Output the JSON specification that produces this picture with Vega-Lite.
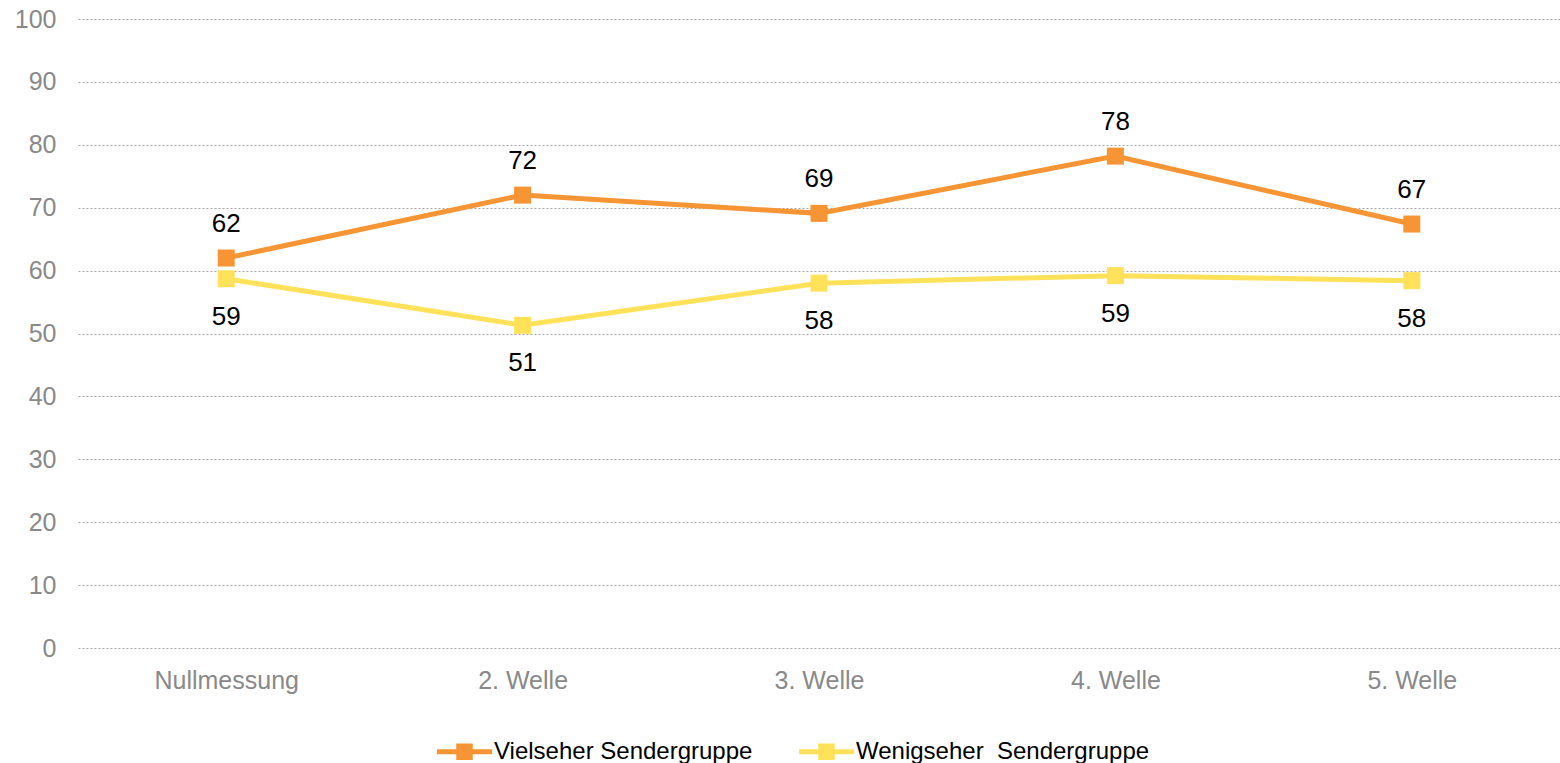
{
  "$schema": "https://vega.github.io/schema/vega-lite/v6.json",
  "autosize": "none",
  "width": 1482,
  "height": 629,
  "padding": {"left": 78, "top": 19, "right": 0, "bottom": 115},
  "background": "white",
  "config": {
    "view": {"stroke": null},
    "font": "Liberation Sans",
    "axis": {"labelFont": "Liberation Sans", "labelColor": "#898989", "labelFontSize": 25, "domain": false, "ticks": false, "grid": true, "gridColor": "#a6a6a6", "gridDash": [2, 2], "gridWidth": 1, "title": null},
    "legend": {"labelFont": "Liberation Sans", "labelFontSize": 24, "labelColor": "#000000", "labelLimit": 500}
  },
  "data": {
    "values": [
      {"welle": "Nullmessung", "gruppe": "Vielseher Sendergruppe", "wert": 62.0},
      {"welle": "2. Welle", "gruppe": "Vielseher Sendergruppe", "wert": 72.0},
      {"welle": "3. Welle", "gruppe": "Vielseher Sendergruppe", "wert": 69.1},
      {"welle": "4. Welle", "gruppe": "Vielseher Sendergruppe", "wert": 78.2},
      {"welle": "5. Welle", "gruppe": "Vielseher Sendergruppe", "wert": 67.4},
      {"welle": "Nullmessung", "gruppe": "Wenigseher\u00a0 Sendergruppe", "wert": 58.7},
      {"welle": "2. Welle", "gruppe": "Wenigseher\u00a0 Sendergruppe", "wert": 51.3},
      {"welle": "3. Welle", "gruppe": "Wenigseher\u00a0 Sendergruppe", "wert": 58.0},
      {"welle": "4. Welle", "gruppe": "Wenigseher\u00a0 Sendergruppe", "wert": 59.2},
      {"welle": "5. Welle", "gruppe": "Wenigseher\u00a0 Sendergruppe", "wert": 58.4}
    ]
  },
  "encoding": {
    "x": {"field": "welle", "type": "ordinal", "sort": null,
      "scale": {"type": "point", "padding": 0.5},
      "axis": {"labelAngle": 0, "labelPadding": 20, "grid": false}},
    "y": {"field": "wert", "type": "quantitative",
      "scale": {"domain": [0, 100], "nice": false},
      "axis": {"values": [0, 10, 20, 30, 40, 50, 60, 70, 80, 90, 100], "labelPadding": 22}}
  },
  "layer": [
    {
      "mark": {"type": "line", "strokeWidth": 5},
      "encoding": {
        "color": {"field": "gruppe", "type": "nominal",
          "scale": {"domain": ["Vielseher Sendergruppe", "Wenigseher\u00a0 Sendergruppe"], "range": ["#F79433", "#FFE25A"]},
          "legend": {"orient": "none", "legendX": 359, "legendY": 705, "direction": "horizontal", "title": null,
            "symbolType": "M-1,-0.09L1,-0.09L1,0.09L-1,0.09Z M-0.3,-0.3L0.3,-0.3L0.3,0.3L-0.3,0.3Z",
            "symbolSize": 3025, "symbolStrokeWidth": 0, "labelOffset": 2, "columnPadding": 46}}
      }
    },
    {
      "mark": {"type": "square", "size": 289, "opacity": 1, "filled": true},
      "encoding": {
        "color": {"field": "gruppe", "type": "nominal"}
      }
    },
    {
      "transform": [{"filter": "datum.gruppe == 'Vielseher Sendergruppe'"}],
      "mark": {"type": "text", "fontSize": 26, "color": "#000000", "dy": -34, "baseline": "middle"},
      "encoding": {"text": {"field": "wert", "type": "quantitative", "format": ".0f"}}
    },
    {
      "transform": [{"filter": "datum.gruppe != 'Vielseher Sendergruppe'"}],
      "mark": {"type": "text", "fontSize": 26, "color": "#000000", "dy": 38, "baseline": "middle"},
      "encoding": {"text": {"field": "wert", "type": "quantitative", "format": ".0f"}}
    }
  ]
}
